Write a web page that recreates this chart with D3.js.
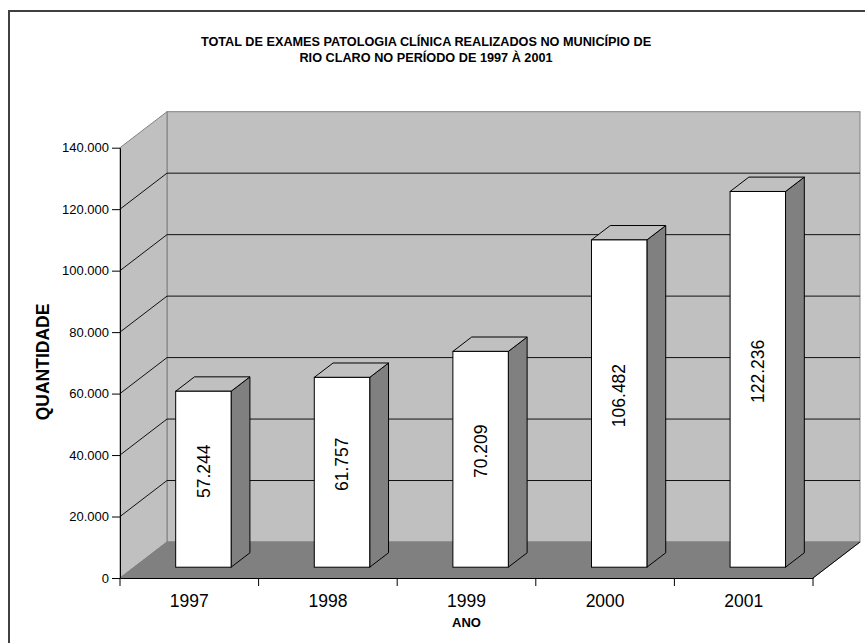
<!DOCTYPE html>
<html lang="pt">
<head>
<meta charset="UTF-8">
<title>Exames Patologia Clínica</title>
<script src="https://d3js.org/d3.v7.min.js"></script>
<style>
  body { margin: 0; background: #fff; }
  svg text { font-family: "Liberation Sans", Arial, sans-serif; fill: #000; }
</style>
</head>
<body>
<div id="chart"></div>
<script>
// data
const years = ["1997", "1998", "1999", "2000", "2001"];
const values = [57244, 61757, 70209, 106482, 122236];
const yTicks = [0, 20000, 40000, 60000, 80000, 100000, 120000, 140000];
const titleLines = ["TOTAL DE EXAMES PATOLOGIA CLÍNICA REALIZADOS NO MUNICÍPIO DE",
                    "RIO CLARO NO PERÍODO DE 1997 À 2001"];

const W = 865, H = 643;
const plotL = 120, plotR = 813, plotB = 578, plotT = 147.7;
const depthX = 47, depthY = -36;          // 3D offset of the back wall
const barFront = 0.3, barDepth = 0.4;       // bar placement inside the depth

const svg = d3.select("#chart").append("svg")
    .attr("width", W).attr("height", H);

// frame (only left and top edges are visible)
svg.append("path")
    .attr("d", `M9,${H + 5}V11H${W + 5}`)
    .attr("fill", "none").attr("stroke", "#404040").attr("stroke-width", 2);

const x = d3.scaleBand().domain(years).range([plotL, plotR]).padding(0);
const y = d3.scaleLinear().domain([0, 140000]).range([plotB, plotT]);

const br = d3.formatLocale({decimal: ",", thousands: ".", grouping: [3], currency: ["R$", ""]});
const fmt = br.format(",d");

// back wall
svg.append("rect")
    .attr("x", plotL + depthX).attr("y", y(140000) + depthY)
    .attr("width", plotR - plotL).attr("height", y(0) - y(140000))
    .attr("fill", "#c0c0c0").attr("stroke", "#808080");

// side wall
svg.append("polygon")
    .attr("points", [[plotL, y(0)], [plotL, y(140000)], [plotL + depthX, y(140000) + depthY], [plotL + depthX, y(0) + depthY]].join(" "))
    .attr("fill", "#c0c0c0").attr("stroke", "#808080");

// gridlines
const grid = yTicks.filter(t => t > 0 && t < 140000);
svg.append("g").selectAll("path").data(grid).join("path")
    .attr("d", t => `M${plotL},${y(t)}L${plotL + depthX},${y(t) + depthY}H${plotR + depthX}`)
    .attr("fill", "none").attr("stroke", "#111").attr("stroke-width", 1);

// floor
svg.append("polygon")
    .attr("points", [[plotL, y(0)], [plotR, y(0)], [plotR + depthX, y(0) + depthY], [plotL + depthX, y(0) + depthY]].join(" "))
    .attr("fill", "#808080").attr("stroke", "#808080");
svg.append("path")
    .attr("d", `M${plotR},${y(0)}L${plotR + depthX},${y(0) + depthY}`)
    .attr("stroke", "#000");

// bars
const bw = x.bandwidth() * 0.4;
const fx = barFront * depthX, fy = barFront * depthY;
const sx = barDepth * depthX, sy = barDepth * depthY;
const bars = svg.append("g").selectAll("g").data(years).join("g");
bars.each(function(d, i) {
  const g = d3.select(this);
  const x0 = x(d) + (x.bandwidth() - bw) / 2 + fx;
  const x1 = x0 + bw;
  const yt = y(values[i]) + fy, yb = y(0) + fy;
  g.append("polygon")
      .attr("points", [[x1, yb], [x1, yt], [x1 + sx, yt + sy], [x1 + sx, yb + sy]].join(" "))
      .attr("fill", "#808080").attr("stroke", "#000");
  g.append("polygon")
      .attr("points", [[x0, yt], [x1, yt], [x1 + sx, yt + sy], [x0 + sx, yt + sy]].join(" "))
      .attr("fill", "#c0c0c0").attr("stroke", "#000");
  g.append("rect")
      .attr("x", x0).attr("y", yt).attr("width", bw).attr("height", yb - yt)
      .attr("fill", "#fff").attr("stroke", "#000");
  g.append("text")
      .attr("transform", `translate(${x0 + bw / 2},${(yt + yb) / 2 - 8}) rotate(-90)`)
      .attr("text-anchor", "middle").attr("dy", "0.35em")
      .style("font-size", "17.5px")
      .text(fmt(values[i]));
});

// y axis
const yAxis = svg.append("g").attr("transform", `translate(${plotL},0)`)
    .call(d3.axisLeft(y).tickValues(yTicks).tickFormat(fmt).tickSizeInner(8).tickSizeOuter(0).tickPadding(3));
yAxis.selectAll("text").style("font-size", "13px");
yAxis.selectAll("line, path").attr("stroke", "#000");

// x axis
const xAxis = svg.append("g").attr("transform", `translate(0,${plotB})`)
    .call(d3.axisBottom(x).tickSize(0).tickPadding(16.5));
xAxis.selectAll("text").style("font-size", "17.5px");
xAxis.select(".domain").attr("stroke", "#000");
xAxis.selectAll(".edge").data(years.map(d => x(d)).concat([plotR])).join("line")
    .attr("class", "edge")
    .attr("x1", d => d).attr("x2", d => d).attr("y1", 0).attr("y2", 8)
    .attr("stroke", "#000");

// titles
svg.append("text").attr("x", 426).attr("text-anchor", "middle")
    .style("font-size", "12.7px").style("font-weight", "bold")
  .selectAll("tspan").data(titleLines).join("tspan")
    .attr("x", 426).attr("y", (d, i) => 45.5 + i * 16).text(d => d);

svg.append("text")
    .attr("transform", `translate(49,362) rotate(-90)`)
    .attr("text-anchor", "middle")
    .style("font-size", "17.5px").style("font-weight", "bold")
    .text("QUANTIDADE");

svg.append("text")
    .attr("x", (plotL + plotR) / 2).attr("y", 627)
    .attr("text-anchor", "middle")
    .style("font-size", "13px").style("font-weight", "bold")
    .text("ANO");
</script>
</body>
</html>
